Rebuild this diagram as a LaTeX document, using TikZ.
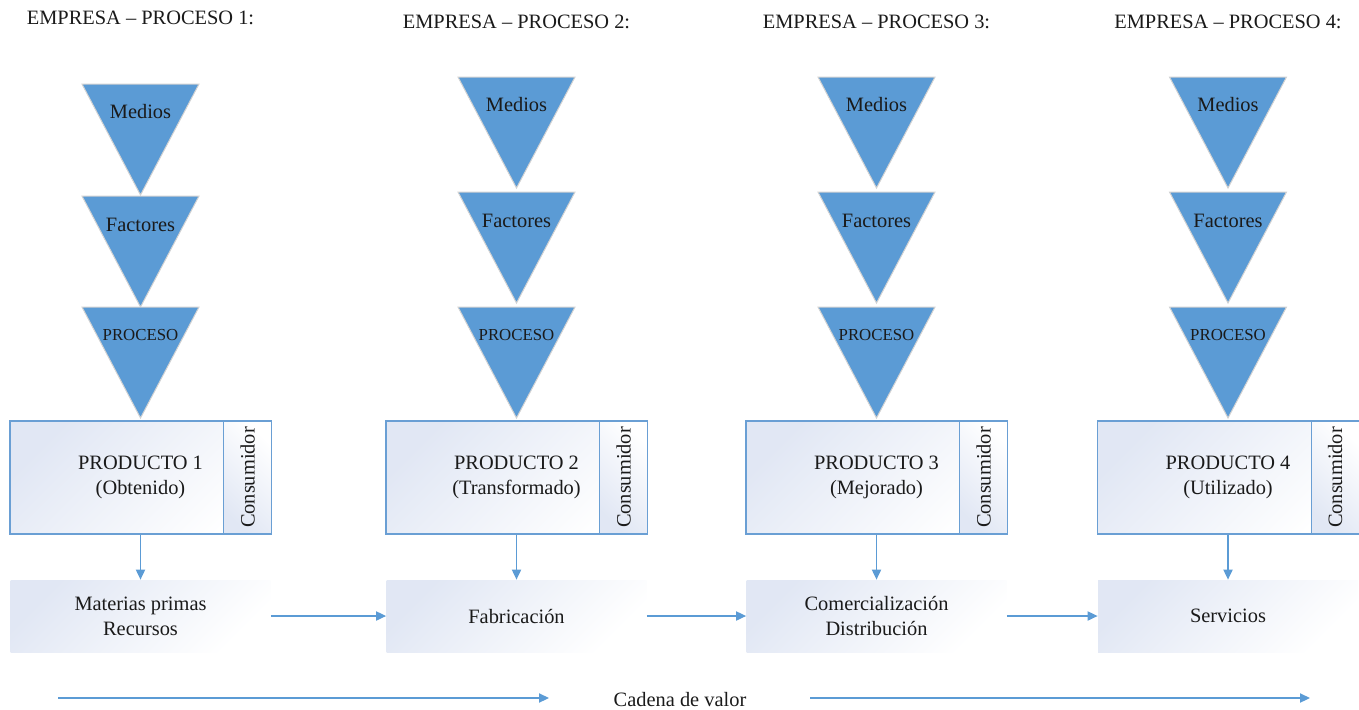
\documentclass[tikz,border=0pt]{standalone}
\usepackage{fontspec}
\setmainfont{LiberationSerif}[Extension=.ttf, UprightFont=*-Regular, BoldFont=*-Bold, Ligatures=TeX]
\usetikzlibrary{arrows.meta}
\definecolor{triblue}{HTML}{5B9BD5}
\definecolor{lineblue}{HTML}{6A9FD4}
\definecolor{boxshade}{HTML}{E1E7F4}
\definecolor{textgray}{HTML}{1A1A1A}
\tikzset{
  embudo/.style={fill=triblue, draw=gray!35, line width=0.5pt, line join=miter},
  prodbox/.style={draw=lineblue, line width=0.6pt, top color=boxshade, bottom color=white,
    shading angle=45, minimum width=130.5pt, minimum height=56.5pt, inner sep=0pt, align=center},
  consbox/.style={draw=lineblue, line width=0.6pt, top color=white, bottom color=boxshade,
    shading angle=-45, rotate=90, minimum width=56.5pt, minimum height=24pt, inner sep=0pt},
  basebox/.style={top color=boxshade, bottom color=white, shading angle=45,
    minimum width=130pt, minimum height=36pt, inner sep=0pt, align=center},
  flecha/.style={draw=triblue, line width=0.65pt, -{Triangle[length=5pt, width=4.6pt]}},
  txt/.style={font=\rmfamily\fontsize{10.2}{12.5}\selectfont, text=textgray},
}
\begin{document}
\begin{tikzpicture}[x=0.5pt, y=-0.5pt, every node/.append style={txt}]
    \useasboundingbox (0,0) rectangle (1359,709);
    \foreach \i/\cx/\hy/\ma/\fa/\sub/\base in {
        1/140.5/18/84/196/Obtenido/{Materias primas\\Recursos},
        2/516.5/22/77/192/Transformado/Fabricación,
        3/876.5/22/77/192/Mejorado/{Comercialización\\Distribución},
        4/1228/22/77/192/Utilizado/Servicios}
    {
        \node (emp\i) at (\cx,\hy) {EMPRESA -- PROCESO \i:};
        % embudo: medios, factores, proceso
        \draw[embudo] (\cx-58.5,\ma) -- (\cx+58.5,\ma) -- (\cx,\ma+111) -- cycle;
        \node (med\i) at (\cx,\ma+28) {Medios};
        \draw[embudo] (\cx-58.5,\fa) -- (\cx+58.5,\fa) -- (\cx,\fa+111) -- cycle;
        \node (fac\i) at (\cx,\fa+29) {Factores};
        \draw[embudo] (\cx-58.5,307) -- (\cx+58.5,307) -- (\cx,418) -- cycle;
        \node[font=\rmfamily\fontsize{8.4}{10}\selectfont] (proc\i) at (\cx,335) {PROCESO};
        % producto y consumidor
        \node[prodbox] (prod\i) at (\cx,477.5) {PRODUCTO \i\\(\sub)};
        \node[consbox] (cons\i) at ([xshift=-12pt]prod\i.east) {Consumidor};
        \node[basebox] (base\i) at (\cx,616) {\base};
        \draw[flecha] (prod\i.south) -- (base\i.north);
    }
    \foreach \a/\b in {1/2, 2/3, 3/4}
        \draw[flecha] (base\a.east) -- (base\b.west);
    % cadena de valor
    \node (cadena) at (680,700) {Cadena de valor};
    \coordinate (cv1) at (58,698);
    \coordinate (cv2) at (549,698);
    \coordinate (cv3) at (810,698);
    \coordinate (cv4) at (1310,698);
    \draw[flecha] (cv1) -- (cv2);
    \draw[flecha] (cv3) -- (cv4);
\end{tikzpicture}
\end{document}
